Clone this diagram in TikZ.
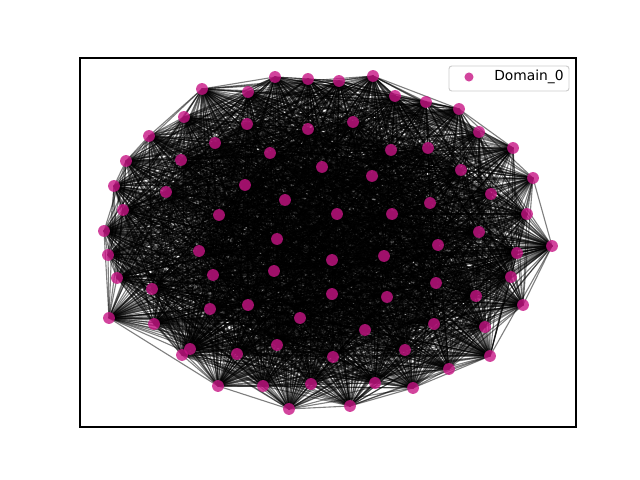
\documentclass[tikz,border=0pt]{standalone}
\usepackage{fontspec}
\setmainfont{DejaVu Sans}
\usepackage{xcolor}
\usetikzlibrary{positioning}
\definecolor{domcol}{RGB}{199,21,133}
\pgfdeclarelayer{edges}
\pgfsetlayers{edges,main}

\begin{document}
\begin{tikzpicture}[
  x=0.0254cm, y=-0.0254cm,
  dom/.style={circle, fill=domcol, fill opacity=0.8, inner sep=0pt, minimum size=0.3cm},
  link/.style={draw=black, draw opacity=0.5, line width=0.8pt},
  frame/.style={draw=black, line width=0.8pt},
  legbox/.style={draw=black!20, fill=white, fill opacity=0.8, rounded corners=2pt, line width=0.7pt}]
  \useasboundingbox (0,0) rectangle (640,480);
  % axes box
  \draw[frame] (80,58) rectangle (576,427);
  % nodes
  \foreach \x/\y [count=\n] in {
    202/89, 184/117, 149/136, 126/161, 114/186, 123/210, 104/231, 215/143,
    181/160, 166/192, 219/215, 245/185, 247/124, 248/92, 199/251, 275/77,
    308/79, 339/81, 373/76, 395/96, 308/129, 353/122, 270/153, 391/150,
    322/167, 372/176, 285/200, 337/214, 392/214, 277/239, 426/102, 459/109,
    479/132, 513/148, 533/178, 428/148, 461/170, 491/194, 430/203, 527/214,
    479/232, 438/245, 552/246, 108/255, 117/278, 152/289, 109/318, 154/324,
    213/275, 210/309, 248/305, 190/349, 182/355, 237/354, 218/386, 332/260,
    384/256, 274/271, 332/294, 387/297, 300/318, 365/330, 277/345, 333/357,
    405/350, 263/386, 311/384, 375/383, 413/388, 289/409, 350/406, 517/253,
    436/283, 511/277, 476/296, 523/305, 434/324, 485/327, 490/356, 449/369}
    \node[dom] (n\n) at (\x,\y) {};
  % edges
  \pgfmathsetseed{1234}
  \begin{pgfonlayer}{edges}
    \foreach \i in {1,...,79}{
      \pgfmathtruncatemacro{\k}{\i+1}
      \foreach \j in {\k,...,80}{
        \pgfmathparse{rnd}
        \ifdim\pgfmathresult pt<0.8pt
          \draw[link] (n\i.center) -- (n\j.center);
        \fi
      }
    }
  \end{pgfonlayer}
  % legend
  \draw[legbox] (449,66) rectangle (569,91);
  \node[dom, minimum size=0.23cm] (legdot) at (469,77) {};
  \node[anchor=west, inner sep=0pt, font=\fontsize{10}{12}\selectfont] (legtext) at (494,77) {Domain\_0};
\end{tikzpicture}
\end{document}
